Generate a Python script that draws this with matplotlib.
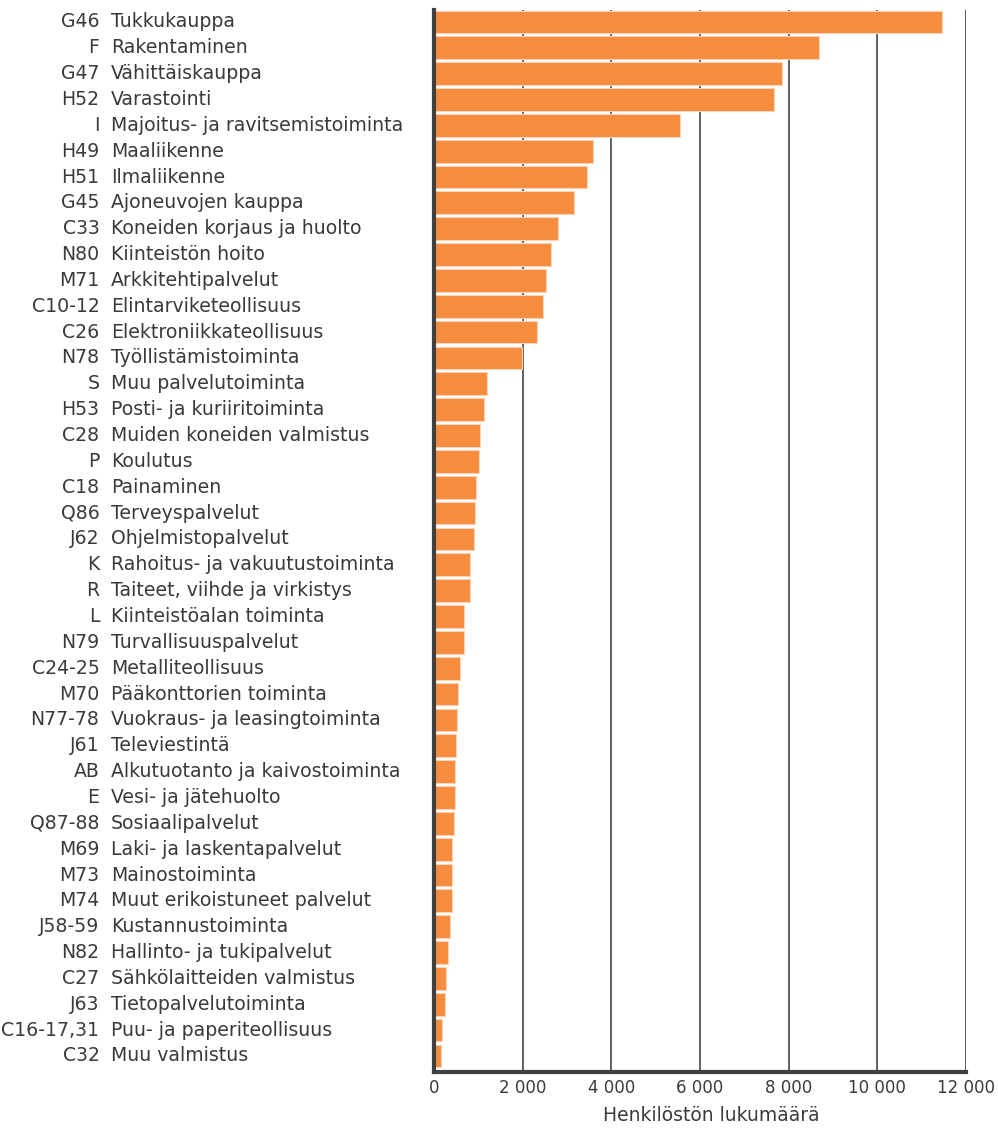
import matplotlib
matplotlib.use("Agg")
import matplotlib.pyplot as plt
from matplotlib.transforms import blended_transform_factory

codes = ["G46", "F", "G47", "H52", "I", "H49", "H51", "G45", "C33", "N80", "M71",
         "C10-12", "C26", "N78", "S", "H53", "C28", "P", "C18", "Q86", "J62", "K", "R",
         "L", "N79", "C24-25", "M70", "N77-78", "J61", "AB", "E", "Q87-88", "M69",
         "M73", "M74", "J58-59", "N82", "C27", "J63", "C16-17,31", "C32"]
names = ["Tukkukauppa", "Rakentaminen", "Vähittäiskauppa", "Varastointi",
         "Majoitus- ja ravitsemistoiminta", "Maaliikenne", "Ilmaliikenne",
         "Ajoneuvojen kauppa", "Koneiden korjaus ja huolto", "Kiinteistön hoito",
         "Arkkitehtipalvelut", "Elintarviketeollisuus", "Elektroniikkateollisuus",
         "Työllistämistoiminta", "Muu palvelutoiminta", "Posti- ja kuriiritoiminta",
         "Muiden koneiden valmistus", "Koulutus", "Painaminen", "Terveyspalvelut",
         "Ohjelmistopalvelut", "Rahoitus- ja vakuutustoiminta",
         "Taiteet, viihde ja virkistys", "Kiinteistöalan toiminta",
         "Turvallisuuspalvelut", "Metalliteollisuus", "Pääkonttorien toiminta",
         "Vuokraus- ja leasingtoiminta", "Televiestintä",
         "Alkutuotanto ja kaivostoiminta", "Vesi- ja jätehuolto", "Sosiaalipalvelut",
         "Laki- ja laskentapalvelut", "Mainostoiminta", "Muut erikoistuneet palvelut",
         "Kustannustoiminta", "Hallinto- ja tukipalvelut", "Sähkölaitteiden valmistus",
         "Tietopalvelutoiminta", "Puu- ja paperiteollisuus", "Muu valmistus"]
values = [11450, 8680, 7860, 7660, 5560, 3590, 3460, 3160, 2800, 2630, 2530,
          2450, 2330, 1975, 1195, 1120, 1035, 1015, 945, 930, 895, 820, 810,
          685, 670, 595, 535, 512, 502, 480, 472, 450, 412,
          410, 398, 353, 308, 263, 240, 188, 158]
xticks = [0, 2000, 4000, 6000, 8000, 10000, 12000]
xtick_labels = ["0", "2 000", "4 000", "6 000", "8 000", "10 000", "12 000"]
xlabel = "Henkilöstön lukumäärä"

plt.rcParams['font.family'] = ['DejaVu Sans']
txt = '#3a3a3a'
orange = '#F58C3E'

fig = plt.figure(figsize=(9.98, 11.28), dpi=100)
ax = fig.add_axes([434/998, (1128-1072)/1128, (966-434)/998, (1072-10)/1128])

ypos = list(range(len(values)))
ax.barh(ypos, values, height=0.88, color=orange, edgecolor='#FBD3B4', linewidth=0.8, zorder=3)

ax.set_ylim(len(values) - 1 + 0.62, -0.46)
ax.set_xlim(0, 12000)
ax.set_yticks([])
ax.set_xticks(xticks)
ax.set_xticklabels(xtick_labels, fontsize=12, color=txt)
ax.tick_params(axis='x', length=0, pad=5)
ax.grid(axis='x', color='#555555', linewidth=1.3, zorder=1)
for s in ['top', 'right']:
    ax.spines[s].set_visible(False)
for s in ['left', 'bottom']:
    ax.spines[s].set_color('#404040')
    ax.spines[s].set_linewidth(3)
    ax.spines[s].set_zorder(4)

ax.set_xlabel(xlabel, fontsize=13.5, color=txt)
ax.xaxis.set_label_coords(0.522, -0.032)

tr = blended_transform_factory(fig.transFigure, ax.transData)
for i, (c, n) in enumerate(zip(codes, names)):
    ax.text(99.5/998, i, c, transform=tr, ha='right', va='center', fontsize=13.6, color=txt)
    ax.text(111/998, i, n, transform=tr, ha='left', va='center', fontsize=13.6, color=txt)

fig.savefig("out.png", dpi=100)
